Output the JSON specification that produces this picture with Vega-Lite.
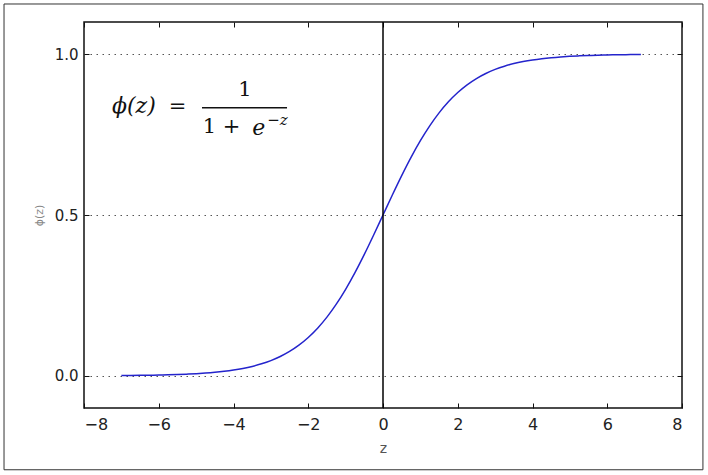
{
  "$schema": "https://vega.github.io/schema/vega-lite/v6.json",
  "width": 598,
  "height": 386,
  "autosize": {"type": "none"},
  "padding": {"left": 84, "top": 22, "right": 26, "bottom": 67},
  "background": "white",
  "config": {"view": {"stroke": "#111", "strokeWidth": 1.5}, "font": "DejaVu Sans"},
  "datasets": {
    "curve": [
      {"z": -7, "phi": 0.000911}, {"z": -6.75, "phi": 0.001169}, {"z": -6.5, "phi": 0.001501}, {"z": -6.25, "phi": 0.001927},
      {"z": -6, "phi": 0.002473}, {"z": -5.75, "phi": 0.003173}, {"z": -5.5, "phi": 0.00407}, {"z": -5.25, "phi": 0.00522},
      {"z": -5, "phi": 0.006693}, {"z": -4.75, "phi": 0.008577}, {"z": -4.5, "phi": 0.010987}, {"z": -4.25, "phi": 0.014063},
      {"z": -4, "phi": 0.017986}, {"z": -3.75, "phi": 0.022977}, {"z": -3.5, "phi": 0.029312}, {"z": -3.25, "phi": 0.037327},
      {"z": -3, "phi": 0.047426}, {"z": -2.75, "phi": 0.060087}, {"z": -2.5, "phi": 0.075858}, {"z": -2.25, "phi": 0.095349},
      {"z": -2, "phi": 0.119203}, {"z": -1.75, "phi": 0.148047}, {"z": -1.5, "phi": 0.182426}, {"z": -1.25, "phi": 0.2227},
      {"z": -1, "phi": 0.268941}, {"z": -0.75, "phi": 0.320821}, {"z": -0.5, "phi": 0.377541}, {"z": -0.25, "phi": 0.437823},
      {"z": 0, "phi": 0.5}, {"z": 0.25, "phi": 0.562177}, {"z": 0.5, "phi": 0.622459}, {"z": 0.75, "phi": 0.679179},
      {"z": 1, "phi": 0.731059}, {"z": 1.25, "phi": 0.7773}, {"z": 1.5, "phi": 0.817574}, {"z": 1.75, "phi": 0.851953},
      {"z": 2, "phi": 0.880797}, {"z": 2.25, "phi": 0.904651}, {"z": 2.5, "phi": 0.924142}, {"z": 2.75, "phi": 0.939913},
      {"z": 3, "phi": 0.952574}, {"z": 3.25, "phi": 0.962673}, {"z": 3.5, "phi": 0.970688}, {"z": 3.75, "phi": 0.977023},
      {"z": 4, "phi": 0.982014}, {"z": 4.25, "phi": 0.985937}, {"z": 4.5, "phi": 0.989013}, {"z": 4.75, "phi": 0.991423},
      {"z": 5, "phi": 0.993307}, {"z": 5.25, "phi": 0.99478}, {"z": 5.5, "phi": 0.99593}, {"z": 5.75, "phi": 0.996827},
      {"z": 6, "phi": 0.997527}, {"z": 6.25, "phi": 0.998073}, {"z": 6.5, "phi": 0.998499}, {"z": 6.75, "phi": 0.998831},
      {"z": 6.9, "phi": 0.998993}
    ],
    "frame": [{"x1": -10.14, "x2": 8.56, "y1": 1.156, "y2": -0.292}],
    "italic": [{"t": "ϕ(z)", "z": -7.25, "v": 0.838}, {"t": "e", "z": -3.5, "v": 0.772}],
    "upright": [{"t": "=", "z": -5.498, "v": 0.836}, {"t": "1", "z": -3.692, "v": 0.8895}, {"t": "1 +", "z": -4.32, "v": 0.775}],
    "sup": [{"t": "−z", "z": -3.1, "v": 0.7966}],
    "bar": [{"za": -4.843, "zb": -2.568, "v": 0.8337}]
  },
  "layer": [
    {
      "data": {"name": "frame"},
      "mark": {"type": "rect", "fill": "transparent", "stroke": "#333", "strokeWidth": 1},
      "encoding": {
        "x": {"field": "x1", "type": "quantitative", "scale": {"domain": [-8, 8], "nice": false, "zero": false},
              "axis": {"orient": "top", "labels": false, "title": null, "domain": false, "grid": false, "values": [-8, -6, -4, -2, 0, 2, 4, 6, 8], "tickSize": -5, "tickColor": "#111", "tickWidth": 1}},
        "x2": {"field": "x2"},
        "y": {"field": "y1", "type": "quantitative", "scale": {"domain": [-0.1, 1.1], "nice": false, "zero": false},
              "axis": {"orient": "right", "labels": false, "title": null, "domain": false, "grid": false, "values": [0, 0.5, 1], "tickSize": -5, "tickColor": "#111", "tickWidth": 1}},
        "y2": {"field": "y2"}
      }
    },
    {
      "data": {"name": "curve"},
      "mark": {"type": "line", "color": "#2424cc", "strokeWidth": 1.5, "interpolate": "monotone"},
      "encoding": {
        "x": {"field": "z", "type": "quantitative", "scale": {"domain": [-8, 8], "nice": false, "zero": false},
              "axis": {"orient": "bottom", "title": "z", "domain": false, "grid": false, "values": [-8, -6, -4, -2, 0, 2, 4, 6, 8], "format": "d",
                       "tickSize": -5, "tickColor": "#111", "tickWidth": 1, "labelFontSize": 16, "labelColor": "#222", "labelPadding": 13,
                       "titleFontSize": 14, "titleColor": "#555", "titleFontWeight": "normal", "titlePadding": 9}},
        "y": {"field": "phi", "type": "quantitative", "scale": {"domain": [-0.1, 1.1], "nice": false, "zero": false},
              "axis": {"orient": "left", "title": "ϕ(z)", "domain": false, "grid": true, "gridDash": [1.5, 4.5], "gridColor": "#555", "gridWidth": 1,
                       "values": [0, 0.5, 1], "format": ".1f", "tickSize": -5, "tickColor": "#111", "tickWidth": 1,
                       "labelFontSize": 15, "labelColor": "#222", "labelPadding": 11,
                       "titleFontSize": 11, "titleColor": "#888", "titleFontWeight": "normal", "titlePadding": 10}}
      }
    },
    {
      "data": {"values": [{"z0": 0}]},
      "mark": {"type": "rule", "color": "#000", "strokeWidth": 1.5},
      "encoding": {"x": {"field": "z0", "type": "quantitative", "axis": null}}
    },
    {
      "data": {"name": "italic"},
      "mark": {"type": "text", "align": "left", "baseline": "middle", "font": "DejaVu Serif", "fontStyle": "italic", "fontSize": 22, "color": "#111"},
      "encoding": {"x": {"field": "z", "type": "quantitative", "axis": null}, "y": {"field": "v", "type": "quantitative", "axis": null}, "text": {"field": "t"}}
    },
    {
      "data": {"name": "upright"},
      "mark": {"type": "text", "align": "center", "baseline": "middle", "font": "DejaVu Serif", "fontSize": 21, "color": "#111"},
      "encoding": {"x": {"field": "z", "type": "quantitative", "axis": null}, "y": {"field": "v", "type": "quantitative", "axis": null}, "text": {"field": "t"}}
    },
    {
      "data": {"name": "sup"},
      "mark": {"type": "text", "align": "left", "baseline": "middle", "font": "DejaVu Serif", "fontStyle": "italic", "fontSize": 15, "color": "#111"},
      "encoding": {"x": {"field": "z", "type": "quantitative", "axis": null}, "y": {"field": "v", "type": "quantitative", "axis": null}, "text": {"field": "t"}}
    },
    {
      "data": {"name": "bar"},
      "mark": {"type": "rule", "color": "#111", "strokeWidth": 1.5},
      "encoding": {"x": {"field": "za", "type": "quantitative", "axis": null}, "x2": {"field": "zb"}, "y": {"field": "v", "type": "quantitative", "axis": null}}
    }
  ],
  "resolve": {"axis": {"x": "independent", "y": "independent"}}
}
